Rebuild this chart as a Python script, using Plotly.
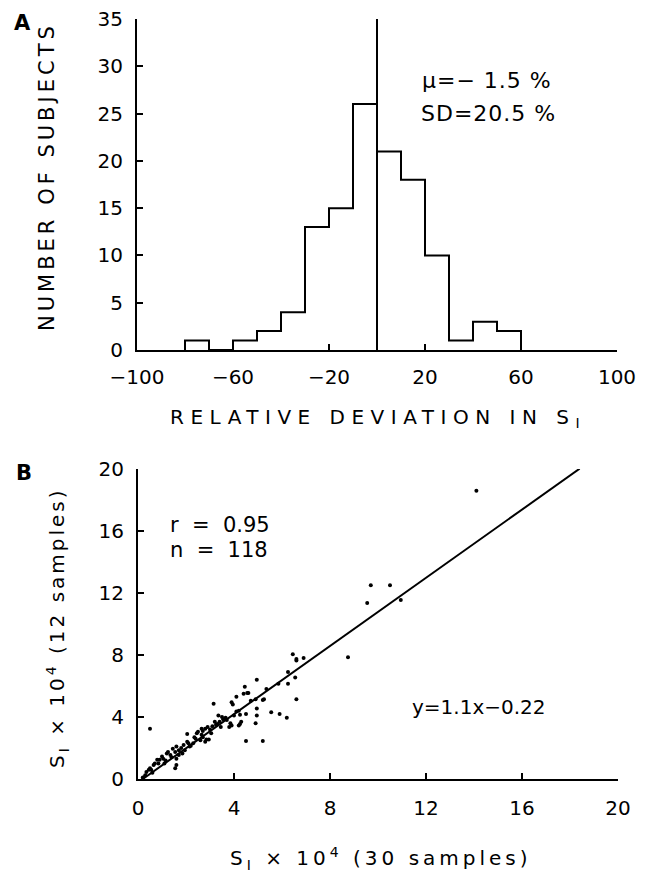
import plotly.graph_objects as go

# panel A: histogram of relative deviation (%)
bin_edges = [-80, -70, -60, -50, -40, -30, -20, -10, 0, 10, 20, 30, 40, 50, 60]
counts = [1, 0, 1, 2, 4, 13, 15, 26, 21, 18, 10, 1, 3, 2]

# panel B: S_I x 10^4, 30 samples vs 12 samples
si_30 = [14.1, 9.7, 10.5, 9.55, 10.95, 8.75,
         6.45, 6.6, 6.6, 6.9, 6.25, 6.55, 6.25, 5.85, 6.6, 5.35, 4.95, 4.45, 4.4, 4.55,
         4.6, 4.1, 4.9, 5.25, 5.2, 4.7, 3.9, 3.95, 3.15, 4.1, 4.2, 4.25, 4.5, 4.95,
         4.95, 4.9, 5.55, 5.9, 6.2, 4.3, 4.25, 4.2, 3.85, 3.9, 3.8, 4.5, 5.2, 3.55,
         3.35, 3.4, 3.65, 3.5, 3.2, 3.25, 3.1, 2.9, 2.8, 2.7, 2.65, 2.7, 2.6, 2.85,
         2.95, 2.8, 2.65, 2.5, 2.45, 2.05, 2.35, 2.05, 2.1, 1.9, 1.7, 1.6, 1.55, 1.45,
         1.95, 2.15, 2.3, 1.25, 1.35, 1.2, 1.6, 1.7, 1.55, 1.6, 1.0, 1.05, 0.9, 1.15,
         0.8, 0.7, 0.85, 0.65, 0.5, 0.45, 0.35, 0.55, 0.3, 0.2, 0.5, 3.0, 3.3, 2.4,
         1.8, 1.1, 0.6, 1.4, 3.7, 4.0, 2.2, 3.05, 3.45, 1.85]
si_12 = [18.6, 12.5, 12.5, 11.35, 11.55, 7.85,
         8.05, 7.65, 7.75, 7.8, 6.9, 6.55, 6.15, 6.15, 5.15, 5.8, 6.4, 5.95, 5.5, 5.55,
         5.55, 5.3, 5.15, 5.15, 5.1, 5.05, 4.95, 4.8, 4.85, 4.35, 4.4, 4.15, 4.2, 4.55,
         4.1, 3.6, 4.3, 4.2, 3.95, 3.7, 3.55, 3.45, 3.6, 3.45, 3.35, 2.45, 2.45, 3.85,
         4.1, 3.7, 3.95, 4.0, 3.7, 3.5, 3.4, 3.35, 3.25, 3.1, 2.85, 2.7, 2.5, 2.55,
         2.55, 2.4, 3.25, 3.05, 2.95, 2.9, 2.7, 2.4, 2.3, 2.2, 1.85, 2.1, 1.75, 1.95,
         1.85, 2.1, 2.3, 1.75, 1.55, 1.65, 1.3, 1.55, 0.7, 0.9, 1.45, 1.3, 1.25, 1.2,
         1.25, 1.0, 1.0, 0.9, 0.7, 0.6, 0.45, 0.6, 0.25, 0.1, 3.25, 3.2, 3.55, 2.6,
         2.0, 1.0, 0.4, 1.4, 3.8, 4.1, 2.15, 2.95, 3.35, 1.65]

slope, intercept = 1.1, -0.22
fit_x = [0.2, 18.4]

FONT = "DejaVu Sans"
W, H, OFF = 650, 875, 8   # page body margin shifts the figure by 8px

# step outline for the histogram
step_x = [bin_edges[0]] + bin_edges
step_y = [0] + counts + [0]

fig = go.Figure()
fig.add_trace(go.Scatter(x=step_x, y=step_y, mode="lines", line_shape="hv",
                         line=dict(color="black", width=2), xaxis="x", yaxis="y"))
fig.add_trace(go.Scatter(x=[0, 0], y=[0, 35], mode="lines",
                         line=dict(color="black", width=2), xaxis="x", yaxis="y"))

fig.add_trace(go.Scatter(x=si_30, y=si_12, mode="markers",
                         marker=dict(color="black", size=4), xaxis="x2", yaxis="y2"))
fig.add_trace(go.Scatter(x=fit_x, y=[slope * v + intercept for v in fit_x], mode="lines",
                         line=dict(color="black", width=2), xaxis="x2", yaxis="y2"))

axis_style = dict(showline=True, linecolor="black", linewidth=2, ticks="inside",
                  ticklen=6, tickwidth=2, tickcolor="black", showgrid=False,
                  zeroline=False, automargin=False, ticklabeloverflow="allow",
                  tickfont=dict(family=FONT, size=20, color="black"))

def xdom(a, b):
    return [(a - OFF) / W, (b - OFF) / W]

def ydom(top, bottom):
    return [1 - (bottom - OFF) / H, 1 - (top - OFF) / H]

fig.update_layout(
    width=W, height=H,
    margin=dict(l=0, r=0, t=0, b=0),
    paper_bgcolor="white", plot_bgcolor="white",
    showlegend=False,
    xaxis=dict(domain=xdom(137, 617), anchor="y", range=[-100, 100],
               tickvals=[-100, -60, -20, 20, 60, 100], ticklabelstandoff=8, **axis_style),
    yaxis=dict(domain=ydom(19, 350), anchor="x", range=[0, 35], dtick=5,
               ticklabelstandoff=8, **axis_style),
    xaxis2=dict(domain=xdom(138, 618), anchor="y2", range=[0, 20], dtick=4,
                ticklabelstandoff=10, **axis_style),
    yaxis2=dict(domain=ydom(469, 779), anchor="x2", range=[0, 20], dtick=4,
                ticklabelstandoff=8, **axis_style),
)

def note(text, x, y, size=20, angle=0, xanchor="center", bold=False):
    fig.add_annotation(text=f"<b>{text}</b>" if bold else text,
                       x=(x - OFF) / W, y=1 - (y - OFF) / H,
                       xref="paper", yref="paper", showarrow=False, textangle=angle,
                       xanchor=xanchor, yanchor="middle",
                       font=dict(family=FONT, size=size, color="black"))

sp = '<span style="letter-spacing:{}px">{}</span>'
note("A", 22, 23, size=21, bold=True)
note("B", 24, 473, size=21, bold=True)
note(sp.format(4, "NUMBER OF SUBJECTS"), 47, 177, size=21, angle=-90)
note(sp.format(6.5, "RELATIVE DEVIATION IN S<sub>I</sub>"), 378, 418)
note(sp.format(1, "μ=− 1.5 %"), 487, 80, size=22)
note(sp.format(1, "SD=20.5 %"), 488, 113, size=22)
note("r  =  0.95", 168, 525, size=21, xanchor="left")
note("n  =  118", 168, 550, size=21, xanchor="left")
note("y=1.1x−0.22", 479, 707, size=20)
note(sp.format(3, "S<sub>I</sub> × 10<sup>4</sup> (12 samples)"), 57, 628, angle=-90)
note(sp.format(4, "S<sub>I</sub> × 10<sup>4</sup> (30 samples)"), 381, 858)

fig.write_html("out.html")
